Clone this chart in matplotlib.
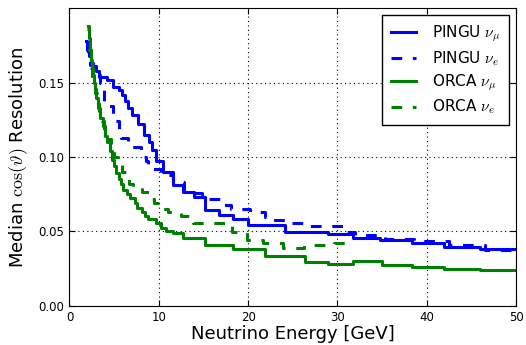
import matplotlib
matplotlib.use("Agg")
import matplotlib.pyplot as plt

# PINGU nu_mu (blue, solid) - step edges [GeV] and median resolution
pingu_mu_E = [1.9, 2.0, 2.2, 2.4, 2.6, 3.0, 3.3, 4.2, 4.9, 5.5, 5.9, 6.2, 6.6, 7.0, 7.7,
              8.3, 8.9, 9.2, 9.7, 10.5, 11.6, 12.7, 13.9, 15.2, 16.7, 18.3, 20.0, 24.1,
              29.0, 31.7, 34.8, 38.3, 41.9, 46.0, 50.0]
pingu_mu_res = [0.178, 0.172, 0.168, 0.163, 0.161, 0.158, 0.154, 0.152, 0.147, 0.145, 0.142,
                0.138, 0.133, 0.128, 0.122, 0.115, 0.110, 0.105, 0.097, 0.090, 0.081, 0.0767,
                0.0733, 0.0644, 0.061, 0.058, 0.054, 0.0494, 0.048, 0.0453, 0.0440, 0.0425,
                0.0397, 0.0383, 0.0383]

# PINGU nu_e (blue, dashed)
pingu_e_E = [1.9, 2.1, 2.3, 2.6, 3.0, 3.4, 3.6, 3.9, 4.4, 4.9, 5.1, 5.5, 5.8, 6.5, 8.0, 8.6,
             8.8, 9.4, 10.3, 11.6, 12.8, 14.8, 16.8, 18.1, 20.2, 21.9, 22.3, 24.6, 26.2,
             30.8, 32.0, 35.3, 38.6, 42.5, 46.5, 50.0]
pingu_e_res = [0.176, 0.168, 0.162, 0.158, 0.155, 0.150, 0.146, 0.138, 0.134, 0.129, 0.124,
               0.118, 0.1125, 0.107, 0.100, 0.097, 0.094, 0.092, 0.088, 0.083, 0.076, 0.072,
               0.068, 0.065, 0.063, 0.0595, 0.0575, 0.0555, 0.0536, 0.0495, 0.0476, 0.045,
               0.0435, 0.0408, 0.0377, 0.0377]

# ORCA nu_mu (green, solid)
orca_mu_E = [2.1, 2.2, 2.3, 2.4, 2.5, 2.6, 2.7, 2.9, 3.0, 3.2, 3.4, 3.7, 4.0, 4.2, 4.5, 4.8,
             5.0, 5.2, 5.5, 5.8, 6.0, 6.4, 6.8, 7.3, 7.6, 8.1, 8.4, 8.8, 9.7, 10.3, 10.8,
             11.6, 12.7, 15.2, 18.3, 21.9, 26.4, 29.0, 31.8, 35.0, 38.3, 41.9, 46.0, 50.0]
orca_mu_res = [0.188, 0.180, 0.172, 0.165, 0.160, 0.155, 0.150, 0.146, 0.140, 0.133, 0.126,
               0.121, 0.114, 0.110, 0.104, 0.098, 0.094, 0.089, 0.085, 0.082, 0.078, 0.075,
               0.0725, 0.069, 0.066, 0.063, 0.060, 0.058, 0.0555, 0.052, 0.050, 0.0487,
               0.0452, 0.0408, 0.0381, 0.0334, 0.0297, 0.0281, 0.0298, 0.0277, 0.0261,
               0.0247, 0.0237, 0.0237]

# ORCA nu_e (green, dashed)
orca_e_E = [2.0, 2.2, 2.4, 2.5, 2.7, 2.9, 3.1, 3.3, 3.6, 3.9, 4.2, 4.6, 5.0, 5.4, 5.9, 6.3,
            6.7, 7.1, 8.1, 8.9, 9.5, 10.4, 11.0, 12.5, 13.8, 18.2, 19.9, 21.7, 23.9, 26.3,
            29.6, 31.8]
orca_e_res = [0.186, 0.172, 0.160, 0.152, 0.148, 0.143, 0.137, 0.131, 0.124, 0.118, 0.112,
              0.106, 0.100, 0.095, 0.090, 0.086, 0.082, 0.080, 0.0765, 0.072, 0.069, 0.065,
              0.063, 0.0603, 0.0553, 0.0497, 0.0442, 0.0423, 0.0386, 0.0406, 0.0424, 0.0424]

plt.rcParams["mathtext.fontset"] = "cm"
plt.rcParams["font.family"] = "DejaVu Sans"

fig = plt.figure(figsize=(5.26, 3.45), dpi=100)
ax = fig.add_axes([0.1321, 0.1139, 0.8489, 0.862])

lw = 2.2
dash = (0, (3.5, 3.5))
ax.step(pingu_mu_E, pingu_mu_res, where="post", color="#0000ff", lw=lw, label=r"PINGU $\nu_\mu$")
ax.step(pingu_e_E, pingu_e_res, where="post", color="#0000ff", lw=lw, ls=dash, label=r"PINGU $\nu_e$")
ax.step(orca_mu_E, orca_mu_res, where="post", color="#008000", lw=lw, label=r"ORCA $\nu_\mu$")
ax.step(orca_e_E, orca_e_res, where="post", color="#008000", lw=lw, ls=dash, label=r"ORCA $\nu_e$")

ax.set_xlim(0, 50)
ax.set_ylim(0, 0.2)
ax.set_xticks([0, 10, 20, 30, 40, 50])
ax.set_yticks([0.0, 0.05, 0.10, 0.15])
ax.set_yticklabels(["0.00", "0.05", "0.10", "0.15"])
ax.tick_params(direction="in", top=True, right=True, labelsize=8.5, length=4)
ax.grid(True, color="black", linestyle=(0, (1, 3)), linewidth=0.8)

ax.set_xlabel("Neutrino Energy [GeV]", fontsize=13, labelpad=1)
ax.set_ylabel(r"Median $\cos(\vartheta)$ Resolution", fontsize=13, labelpad=6)

leg = ax.legend(loc="upper right", fontsize=11, handlelength=1.65, handletextpad=1.05,
                labelspacing=0.32, borderpad=0.55, borderaxespad=0.45, fancybox=False,
                framealpha=1)
leg.get_frame().set_edgecolor("black")
leg.get_frame().set_linewidth(1.0)

fig.savefig("out.png", dpi=100)
